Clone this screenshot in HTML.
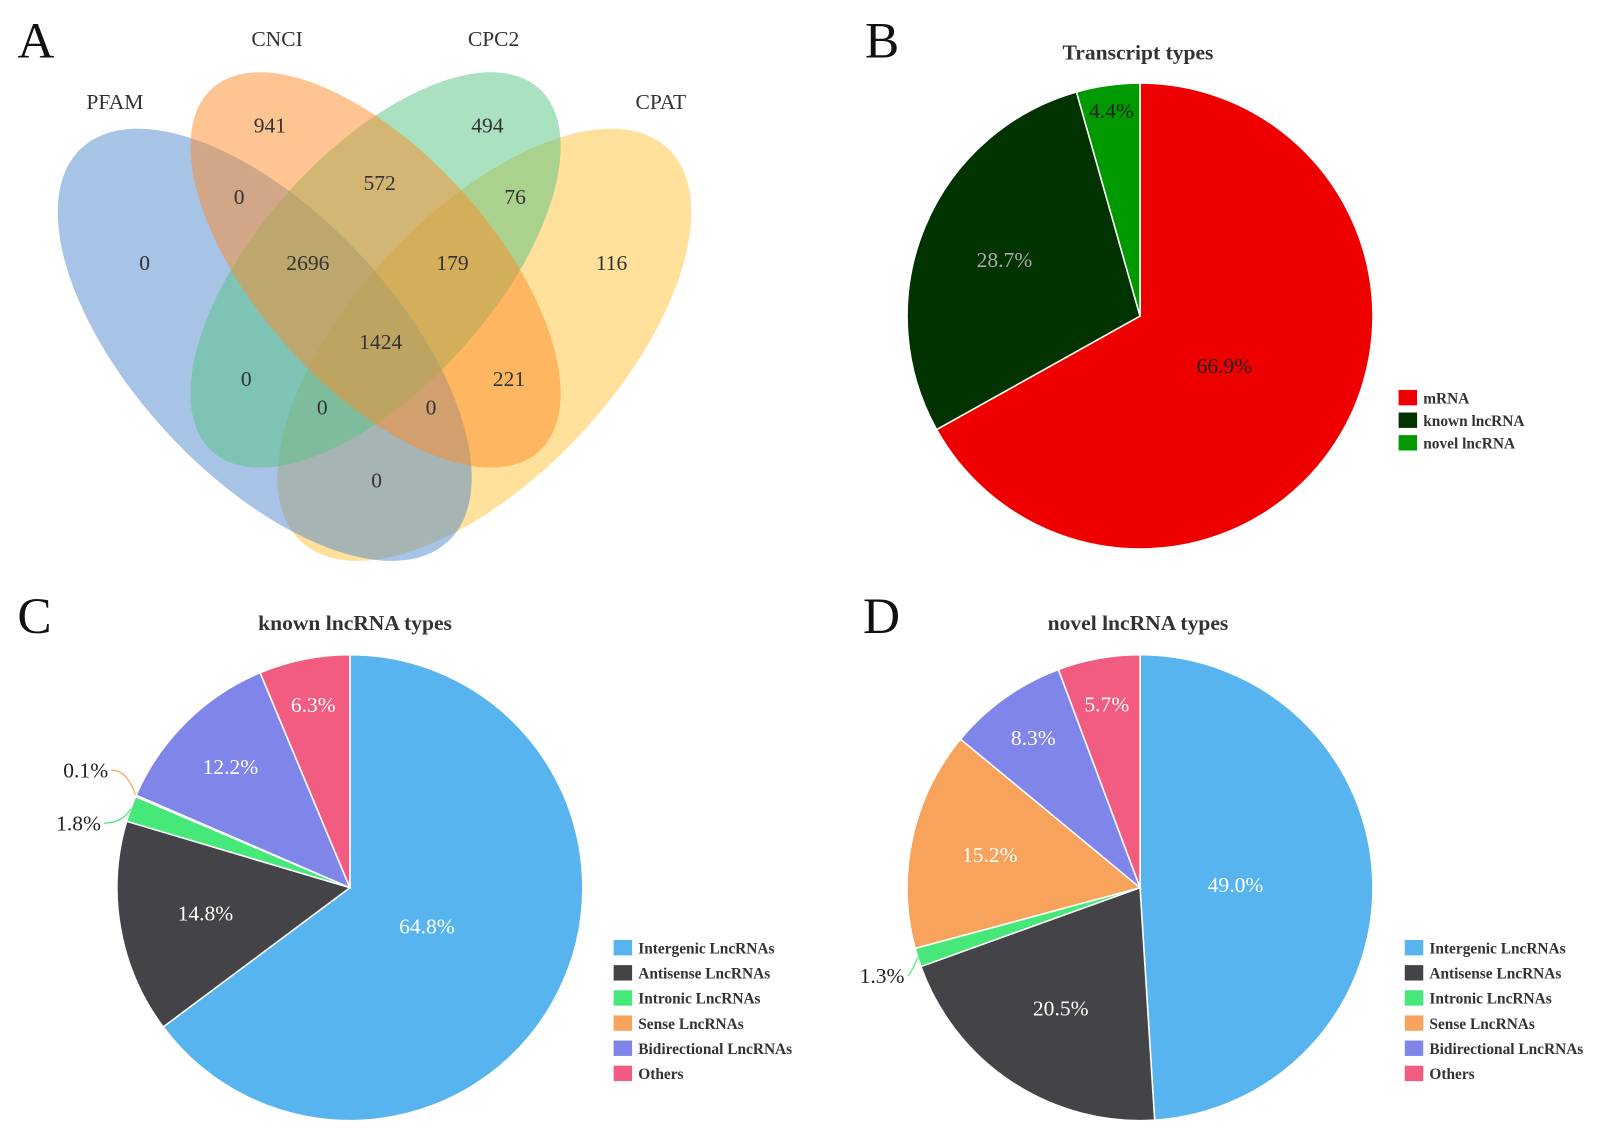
<!DOCTYPE html>
<html><head><meta charset="utf-8">
<style>
html,body{margin:0;padding:0;background:#fff;}
svg{display:block;font-family:"Liberation Serif",serif;}
</style></head>
<body>
<svg id="fig" width="1610" height="1136" viewBox="0 0 1569 1107" preserveAspectRatio="none" xmlns="http://www.w3.org/2000/svg">
  <!-- Panel A: Venn -->
  <g>
    <ellipse cx="472" cy="336" rx="262" ry="128" transform="rotate(-47 472 336)" fill="rgb(255,195,55)" fill-opacity="0.5"/>
    <ellipse cx="258" cy="336" rx="262" ry="128" transform="rotate(47 258 336)" fill="rgb(80,135,205)" fill-opacity="0.5"/>
    <ellipse cx="366" cy="263" rx="238" ry="114" transform="rotate(-48 366 263)" fill="rgb(85,195,130)" fill-opacity="0.5"/>
    <ellipse cx="366" cy="263" rx="238" ry="114" transform="rotate(48 366 263)" fill="rgb(253,140,40)" fill-opacity="0.5"/>
    <g font-size="21" fill="#333" text-anchor="middle">
      <text x="112" y="106">PFAM</text>
      <text x="270" y="45">CNCI</text>
      <text x="481" y="45">CPC2</text>
      <text x="644" y="106">CPAT</text>
      <text x="263" y="129">941</text>
      <text x="475" y="129">494</text>
      <text x="370" y="185">572</text>
      <text x="233" y="199">0</text>
      <text x="502" y="199">76</text>
      <text x="141" y="263">0</text>
      <text x="300" y="263">2696</text>
      <text x="441" y="263">179</text>
      <text x="596" y="263">116</text>
      <text x="371" y="340">1424</text>
      <text x="240" y="376">0</text>
      <text x="496" y="376">221</text>
      <text x="314" y="404">0</text>
      <text x="420" y="404">0</text>
      <text x="367" y="475">0</text>
    </g>
  </g>
  <g font-size="50" fill="#111">
    <text x="17" y="56">A</text>
    <text x="843" y="56">B</text>
    <text x="17" y="617">C</text>
    <text x="841" y="617">D</text>
  </g>
  <g font-size="21" font-weight="bold" fill="#333" text-anchor="middle">
    <text x="1109" y="58">Transcript types</text>
    <text x="346" y="614">known lncRNA types</text>
    <text x="1109" y="614">novel lncRNA types</text>
  </g>
  <g id="pies"></g>
</svg>
<script>
const NS = "http://www.w3.org/2000/svg";
// Panel B data
const bCategories = ["mRNA", "known lncRNA", "novel lncRNA"];
const bValues = [66.9, 28.7, 4.4];
// Panel C data
const lncCategories = ["Intergenic LncRNAs", "Antisense LncRNAs", "Intronic LncRNAs", "Sense LncRNAs", "Bidirectional LncRNAs", "Others"];
const cValues = [64.8, 14.8, 1.8, 0.1, 12.2, 6.3];
// Panel D data
const dValues = [49.0, 20.5, 1.3, 15.2, 8.3, 5.7];

const bColors = ["#ee0000", "#003300", "#009900"];
const lncColors = ["#58b4ee", "#434348", "#46e87a", "#f7a35c", "#8085e9", "#f15c80"];

const root = document.getElementById('pies');
function mk(tag, attrs, parent) {
  const e = document.createElementNS(NS, tag);
  for (const k in attrs) e.setAttribute(k, attrs[k]);
  (parent || root).appendChild(e);
  return e;
}
function pt(cx, cy, r, a) { return [cx + r * Math.sin(a), cy - r * Math.cos(a)]; }

function drawPie(opt) {
  const g = mk('g', {});
  
  
  const total = opt.values.reduce((s, v) => s + v, 0);
  let a0 = 0;
  opt.values.forEach((v, i) => {
    const a1 = a0 + v / total * 2 * Math.PI;
    const p0 = pt(opt.cx, opt.cy, opt.r, a0), p1 = pt(opt.cx, opt.cy, opt.r, a1);
    const large = (a1 - a0) > Math.PI ? 1 : 0;
    const path = mk('path', {
      d: `M${opt.cx},${opt.cy} L${p0[0]},${p0[1]} A${opt.r},${opt.r} 0 ${large} 1 ${p1[0]},${p1[1]} Z`,
      fill: opt.colors[i], stroke: '#fff', 'stroke-width': 1.5
    }, g);
    
    
    const mid = (a0 + a1) / 2;
    const lf = opt.labelR[i];
    const txt = v.toFixed(1) + '%';
    if (lf > 0) {
      const lp = pt(opt.cx, opt.cy, opt.r * lf, mid);
      const t = mk('text', { x: lp[0], y: lp[1] + 7, 'text-anchor': 'middle', 'font-size': 21, fill: opt.labelColor[i] }, g);
      t.textContent = txt;
      
      
    } else {
      const e0 = pt(opt.cx, opt.cy, opt.r, mid);
      const lx = e0[0] - opt.outDx[i], ly = e0[1] + opt.outDy[i];
      const ln = mk('path', { d: `M${e0[0]},${e0[1]} Q${e0[0] - 8},${ly} ${lx},${ly}`, fill: 'none', stroke: opt.colors[i], 'stroke-width': 1.2 }, g);
      
      
      const t = mk('text', { x: lx - 3, y: ly + 7, 'text-anchor': 'end', 'font-size': 21, fill: '#222' }, g);
      t.textContent = txt;
      
      
    }
    a0 = a1;
  });
  // legend
  const lg = mk('g', {});
  
  
  opt.cats.forEach((c, i) => {
    const y = opt.ly + i * opt.lstep;
    const r = mk('rect', { x: opt.lx, y: y - 8, width: 18, height: 15, fill: opt.colors[i] }, lg);
    
    
    const t = mk('text', { x: opt.lx + 24, y: y + 5, 'font-size': 15, 'font-weight': 'bold', fill: '#333' }, lg);
    t.textContent = c;
    
    
  });
}

drawPie({ name: 'pie-transcript-types', cx: 1111, cy: 308, r: 227, values: bValues, cats: bCategories, colors: bColors,
  labelR: [0.42, 0.63, 0.89], labelColor: ['#222', '#aaa', '#222'], outDx: [0, 0, 0], outDy: [0, 0, 0], lx: 1363, ly: 388, lstep: 22 });
drawPie({ name: 'pie-known-lncrna', cx: 341, cy: 865, r: 227, values: cValues, cats: lncCategories, colors: lncColors,
  labelR: [0.37, 0.63, -1, -1, 0.73, 0.8], labelColor: ['#fff', '#fff', '#fff', '#fff', '#fff', '#fff'], outDx: [0, 0, 26, 24, 0, 0], outDy: [0, 0, 14, -25, 0, 0], lx: 598, ly: 924, lstep: 24.5 });
drawPie({ name: 'pie-novel-lncrna', cx: 1111, cy: 865, r: 227, values: dValues, cats: lncCategories, colors: lncColors,
  labelR: [0.41, 0.62, -1, 0.66, 0.79, 0.8], labelColor: ['#fff', '#fff', '#fff', '#fff', '#fff', '#fff'], outDx: [0, 0, 10, 0, 0, 0], outDy: [0, 0, 18, 0, 0, 0], lx: 1369, ly: 924, lstep: 24.5 });
</script>
</body></html>
